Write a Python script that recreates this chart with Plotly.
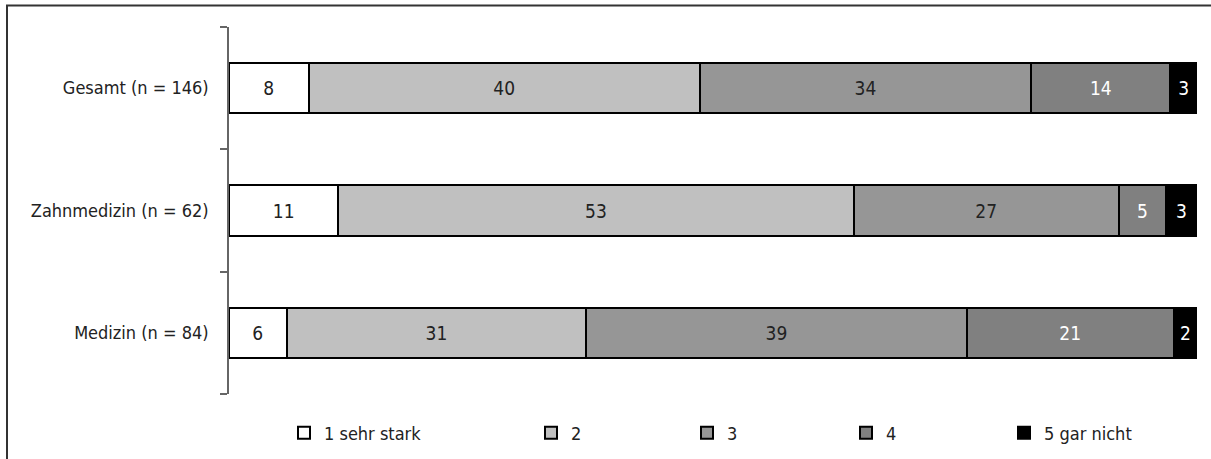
import plotly.graph_objects as go

categories = ["Medizin (n = 84)", "Zahnmedizin (n = 62)", "Gesamt (n = 146)"]
group_n = [84, 62, 146]
series_names = ["1 sehr stark", "2", "3", "4", "5 gar nicht"]
# counts per answer category, per group (Medizin, Zahnmedizin, Gesamt)
counts = {
    "1 sehr stark": [5, 7, 12],
    "2": [26, 33, 59],
    "3": [33, 17, 50],
    "4": [18, 3, 21],
    "5 gar nicht": [2, 2, 4],
}
colors = ["#ffffff", "#c0c0c0", "#969696", "#808080", "#000000"]
text_colors = ["#222222", "#222222", "#222222", "#ffffff", "#ffffff"]
legend_ids = ["legend", "legend2", "legend3", "legend4", "legend5"]
legend_px = [284, 531, 687, 846, 1004]

FONT = "DejaVu Sans Condensed, Liberation Sans, sans-serif"
L, R, T, B = 229, 14, 27, 65
W, H = 1211, 459
pw = W - L - R
ph = H - T - B

fig = go.Figure()
for i, name in enumerate(series_names):
    pct = [c / n * 100 for c, n in zip(counts[name], group_n)]
    fig.add_trace(go.Bar(
        y=categories, x=pct, name=name, orientation="h",
        marker=dict(color=colors[i], line=dict(color="#000000", width=2)),
        text=[f"{round(p + 1e-9):d}" for p in pct],
        textposition="inside", insidetextanchor="middle", textangle=0,
        textfont=dict(family=FONT, size=19, color=text_colors[i]),
        hoverinfo="skip", legend=legend_ids[i], showlegend=True,
    ))

fig.update_layout(
    barmode="stack", bargap=0.59,
    width=W, height=H,
    margin=dict(l=L, r=R, t=T, b=B, pad=0, autoexpand=False),
    paper_bgcolor="white", plot_bgcolor="white",
    font=dict(family=FONT, size=18, color="#222222"),
    xaxis=dict(visible=False, range=[0, 100], fixedrange=True),
    yaxis=dict(
        type="category", showline=True, linecolor="#666666", linewidth=1.5,
        ticks="outside", tickson="boundaries", ticklen=7, tickcolor="#666666",
        tickwidth=1.5, showgrid=False, ticklabelstandoff=15, fixedrange=True,
        tickfont=dict(family=FONT, size=18, color="#222222"),
    ),
    shapes=[dict(
        type="rect", xref="paper", yref="paper",
        x0=(7 - L) / pw, x1=(W + 20 - L) / pw,
        y0=-0.5, y1=(H - B - 5.5) / ph,
        line=dict(color="#333333", width=2), fillcolor="rgba(0,0,0,0)", layer="below",
    )],
)

for lid, px in zip(legend_ids, legend_px):
    fig.update_layout({lid: dict(
        x=(px - L) / pw, xanchor="left", y=(H - B - 433) / ph, yanchor="middle",
        orientation="h", bgcolor="rgba(0,0,0,0)", borderwidth=0,
        font=dict(family=FONT, size=18, color="#222222"),
    )})

fig.write_html("out.html", config={"displayModeBar": False},
               post_script="document.body.style.margin='0';")
